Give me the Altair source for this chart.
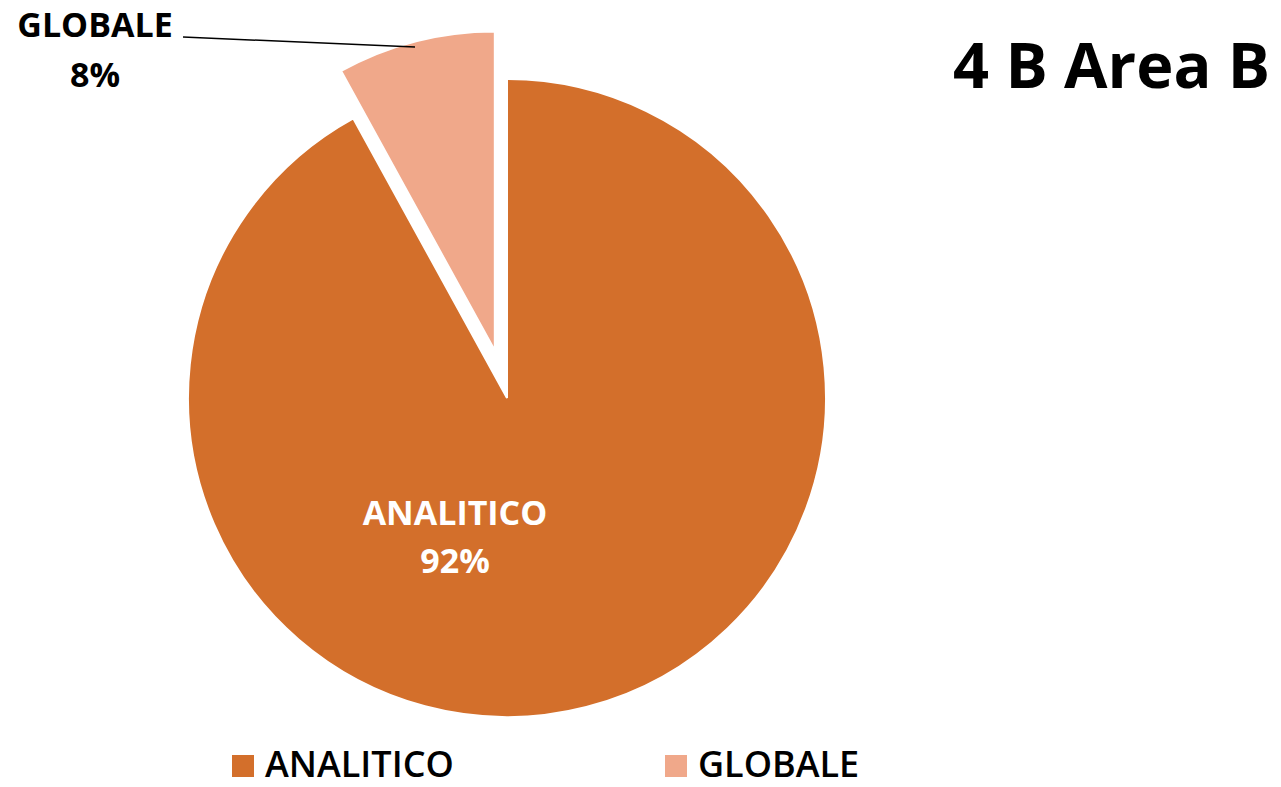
import math
import altair as alt
import pandas as pd

# ---- data ----
categories = ["ANALITICO", "GLOBALE"]
values = [92, 8]
ranks = [0, 1]
colors = ["#D36F2B", "#F0A88A"]
title_text = "4 B Area B"

df = pd.DataFrame({"category": categories, "value": values, "rank": ranks})

# ---- layout / style ----
W, H = 1265, 771
cx, cy = 499, 390
R = 319
EXPLODE = 49
FONT = "Open Sans"

total = sum(values)
mid = math.radians(360 * (values[0] + values[1] / 2) / total)
dx = EXPLODE * math.sin(mid)
dy = -EXPLODE * math.cos(mid)

legend = alt.Legend(
    title=None, orient="none", legendX=217, legendY=740,
    direction="horizontal", symbolType="square", symbolSize=484,
    symbolStrokeWidth=0, labelFont=FONT, labelFontSize=36,
    labelFontWeight=600, labelColor="#000000", labelOffset=4,
    labelLimit=500, columnPadding=204, padding=0, symbolOpacity=1,
)

base = alt.Chart(df).encode(
    theta=alt.Theta("value:Q", stack=True),
    order=alt.Order("rank:Q"),
    color=alt.Color("category:N",
                    scale=alt.Scale(domain=categories, range=colors),
                    legend=legend),
)

main = base.mark_arc(radius=R, stroke="white", strokeWidth=2).encode(
    x=alt.value(cx), y=alt.value(cy),
    opacity=alt.condition("datum.category === 'ANALITICO'", alt.value(1), alt.value(0)),
)
expl = base.mark_arc(radius=R, stroke="white", strokeWidth=2).encode(
    x=alt.value(cx + dx), y=alt.value(cy + dy),
    opacity=alt.condition("datum.category === 'GLOBALE'", alt.value(1), alt.value(0)),
)

lab = alt.Chart(df).transform_calculate(
    label="datum.category + '\\n' + datum.value + '%'"
)
ana_text = lab.transform_filter("datum.category === 'ANALITICO'").mark_text(
    font=FONT, fontSize=34, fontWeight="bold", color="white",
    lineBreak="\n", lineHeight=48, align="center", baseline="alphabetic",
).encode(x=alt.value(447), y=alt.value(517), text="label:N")

glob_text = lab.transform_filter("datum.category === 'GLOBALE'").mark_text(
    font=FONT, fontSize=34, fontWeight="bold", color="#000000",
    lineBreak="\n", lineHeight=50, align="center", baseline="alphabetic",
).encode(x=alt.value(87), y=alt.value(29), text="label:N")

leader = alt.Chart(df).transform_filter("datum.category === 'GLOBALE'").mark_rule(
    color="#000000", strokeWidth=1.5
).encode(x=alt.value(175), y=alt.value(29), x2=alt.value(407), y2=alt.value(39))

title = alt.Chart(pd.DataFrame({"t": [title_text]})).mark_text(
    font=FONT, fontSize=63, fontWeight="bold", align="left",
    baseline="alphabetic", color="#000000",
).encode(x=alt.value(945), y=alt.value(80), text="t:N")

chart = alt.layer(main, expl, ana_text, glob_text, leader, title).properties(
    width=W, height=H, padding=0,
    autosize=alt.AutoSizeParams(type="none"),
).configure_view(stroke=None)

chart.save("out.html", embed_options={"renderer": "svg", "actions": False})
